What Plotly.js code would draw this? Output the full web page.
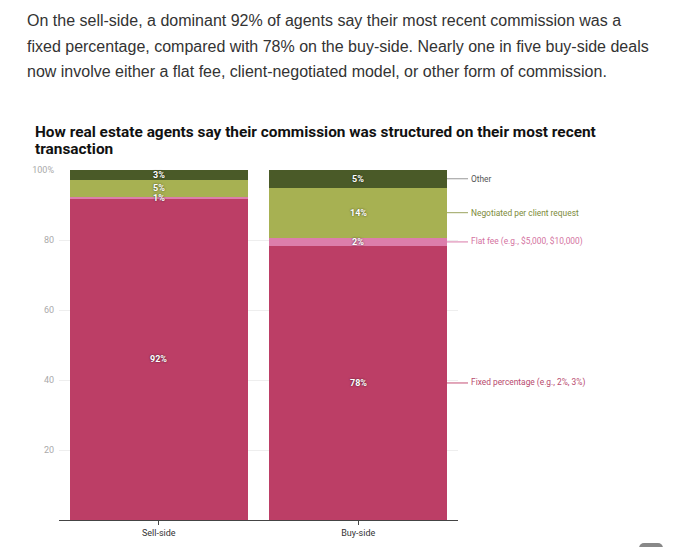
<!DOCTYPE html>
<html>
<head>
<meta charset="utf-8">
<script src="https://cdn.plot.ly/plotly-3.0.1.min.js"></script>
<style>
  html, body { margin:0; padding:0; background:#fff; width:680px; height:547px; overflow:hidden; }
  #intro { position:absolute; left:27px; top:8px; width:650px; white-space:nowrap; font-family:"Liberation Sans", Arial, sans-serif;
           font-size:16px; line-height:25.5px; color:#333; }
  #plot { position:absolute; left:0; top:0; width:680px; height:547px; }
  #pill { position:absolute; left:639px; top:543px; width:24px; height:10px; border-radius:5px; background:#888; }
</style>
</head>
<body>
<div id="plot"></div>
<div id="intro">On the sell-side, a dominant 92% of agents say their most recent commission was a<br>fixed percentage, compared with 78% on the buy-side. Nearly one in five buy-side deals<br>now involve either a flat fee, client-negotiated model, or other form of commission.</div>
<div id="pill"></div>
<script>
// Data
const categories = ["Sell-side", "Buy-side"];
const seriesNames = ["Fixed percentage (e.g., 2%, 3%)", "Flat fee (e.g., $5,000, $10,000)", "Negotiated per client request", "Other"];
const fixedPct   = [91.8, 78.3];
const flatFee    = [0.5, 2.3];
const negotiated = [4.9, 14.4];
const other      = [2.8, 5.0];
const fixedLbl   = ["92%", "78%"];
const flatLbl    = ["1%", "2%"];
const negLbl     = ["5%", "14%"];
const otherLbl   = ["3%", "5%"];
const yTickVals  = [20, 40, 60, 80, 100];
const yTickText  = ["20", "40", "60", "80", "100%"];
const titleLines = ["How real estate agents say their commission was structured on their most recent", "transaction"];

const colors = ["#bc3e66", "#dc7eab", "#a7b152", "#4a5a28"];
const legendTextColors = ["#b84a6e", "#d4739f", "#7d8a3a", "#555"];
const legendLineColors = ["#c45075", "#d97aa9", "#9aa35e", "#999"];

const seriesVals = [fixedPct, flatFee, negotiated, other];
const seriesLbls = [fixedLbl, flatLbl, negLbl, otherLbl];

const traces = seriesVals.map((vals, i) => ({
  type: "bar",
  x: categories,
  y: vals,
  name: seriesNames[i],
  marker: { color: colors[i], line: { width: 0 } },
  hoverinfo: "skip"
}));

const L = 59, R = 222, T = 170, B = 27, W = 680, H = 547;
const PW = W - L - R, PH = H - T - B;
const px = (x) => (x - L) / PW;          // pixel x -> paper x
const py = (y) => (H - B - y) / PH;      // pixel y -> paper y

const annotations = [];
const shapes = [];
// segment labels
categories.forEach((cat, ci) => {
  let base = 0;
  seriesVals.forEach((vals, si) => {
    const mid = base + vals[ci] / 2;
    annotations.push({
      x: cat, y: mid, xref: "x", yref: "y", text: seriesLbls[si][ci], showarrow: false,
      font: { family: "Roboto, sans-serif", size: 9, color: "#fff", weight: 700, shadow: "0px 0px 2px rgba(0,0,0,0.7)" }
    });
    base += vals[ci];
  });
});
// right-side legend labels aligned with buy-side segments
{
  let base = 0;
  const ci = categories.length - 1;
  seriesVals.forEach((vals, si) => {
    const mid = base + vals[ci] / 2;
    shapes.push({
      type: "line", xref: "paper", yref: "y", x0: px(447), x1: px(468), y0: mid, y1: mid,
      line: { color: legendLineColors[si], width: 1 }
    });
    annotations.push({
      x: px(469), y: mid, xref: "paper", yref: "y", xanchor: "left", yanchor: "middle",
      text: seriesNames[si], showarrow: false,
      font: { family: "Roboto, sans-serif", size: 8.4, color: legendTextColors[si] }
    });
    base += vals[ci];
  });
}
// chart title (two lines)
[132, 149].forEach((yc, i) => {
  annotations.push({
    x: px(33), y: py(yc), xref: "paper", yref: "paper", xanchor: "left", yanchor: "middle",
    text: "<b>" + titleLines[i] + "</b>", showarrow: false,
    font: { family: "Roboto, sans-serif", size: 15.4, color: "#111" }
  });
});

const layout = {
  width: W, height: H,
  margin: { l: L, r: R, t: T, b: B, pad: 0 },
  paper_bgcolor: "#fff", plot_bgcolor: "#fff",
  barmode: "stack",
  bargap: 0.11,
  showlegend: false,
  xaxis: {
    type: "category",
    range: [-0.5, 1.5],
    showgrid: false,
    showline: true, linecolor: "#444", linewidth: 1,
    ticks: "outside", ticklen: 4, tickcolor: "#444",
    tickfont: { family: "Roboto, sans-serif", size: 9, color: "#333" },
    fixedrange: true
  },
  yaxis: {
    range: [0, 100],
    tickvals: yTickVals, ticktext: yTickText,
    showgrid: true, gridcolor: "#eeeeee", gridwidth: 1,
    zeroline: false, showline: false,
    ticks: "", ticklabelstandoff: 4,
    tickfont: { family: "Roboto, sans-serif", size: 9, color: "#aaa" },
    fixedrange: true
  },
  annotations: annotations,
  shapes: shapes
};

Plotly.newPlot("plot", traces, layout, { displayModeBar: false, staticPlot: true });
</script>
</body>
</html>
